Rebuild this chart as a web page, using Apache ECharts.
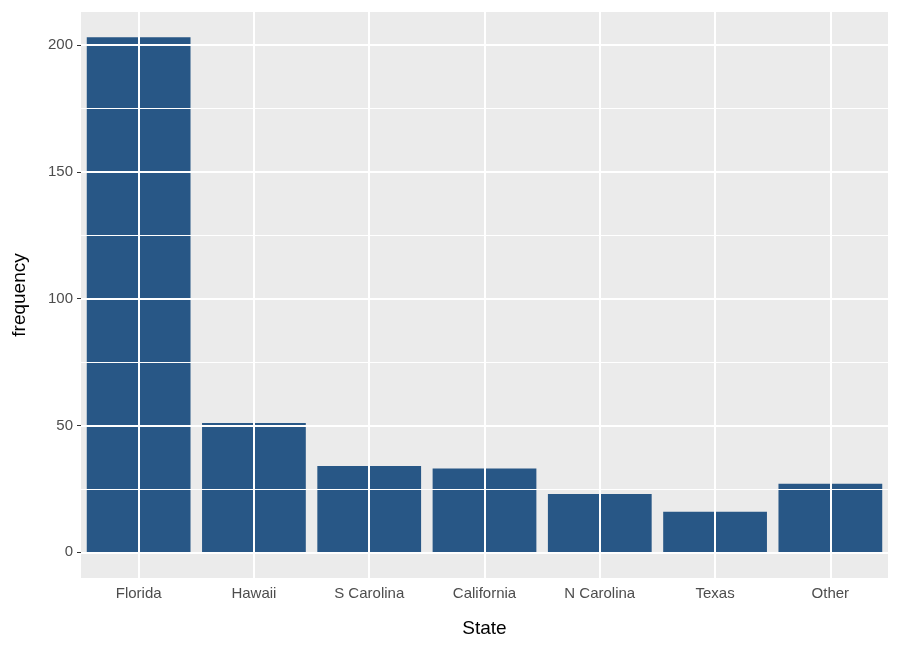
<!DOCTYPE html>
<html><head><meta charset="utf-8">
<script src="https://cdn.jsdelivr.net/npm/echarts@6/dist/echarts.min.js"></script>
<style>html,body{margin:0;padding:0;background:#fff}#c{width:900px;height:646px}</style>
</head><body><div id="c"></div>
<script>
const categories = ["Florida","Hawaii","S Carolina","California","N Carolina","Texas","Other"];
const frequency = [203, 51, 34, 33, 23, 16, 27];
const majorTicks = [0, 50, 100, 150, 200];
const minorTicks = [25, 75, 125, 175];

const chart = echarts.init(document.getElementById('c'));
const lbl = {color:'#4D4D4D', fontSize:15, fontFamily:'Liberation Sans, Arial, sans-serif'};
chart.setOption({
  animation:false,
  grid:{left:81,right:12,top:12,bottom:68,show:true,backgroundColor:'#EBEBEB',borderWidth:0},
  xAxis:{type:'category',data:categories,boundaryGap:true,
    name:'State',nameLocation:'middle',nameGap:41,
    nameTextStyle:{color:'#000',fontSize:19,fontFamily:'Liberation Sans, Arial, sans-serif'},
    axisLine:{show:false},
    axisTick:{show:true,alignWithLabel:true,length:4,lineStyle:{color:'#333'}},
    axisLabel:Object.assign({margin:8},lbl),
    splitLine:{show:false}},
  yAxis:{type:'value',min:-10.15,max:213,
    name:'frequency',nameLocation:'middle',nameGap:52,
    nameTextStyle:{color:'#000',fontSize:19,fontFamily:'Liberation Sans, Arial, sans-serif'},
    axisLine:{show:false},
    axisTick:{show:true,length:4,lineStyle:{color:'#333'},customValues:majorTicks},
    axisLabel:Object.assign({margin:8,customValues:majorTicks},lbl),
    splitLine:{show:false}},
  series:[
    {type:'line',data:[],z:1,silent:true,
     markLine:{silent:true,symbol:'none',label:{show:false},
       data:[].concat(
         minorTicks.map(v=>({yAxis:v,lineStyle:{color:'#fff',width:1,type:'solid'}})),
         majorTicks.map(v=>({yAxis:v,lineStyle:{color:'#fff',width:2,type:'solid'}})),
         categories.map(c=>({xAxis:c,lineStyle:{color:'#fff',width:2,type:'solid'}}))
       )}},
    {type:'bar',data:frequency,z:2,barCategoryGap:'10%',itemStyle:{color:'#285786'}}
  ]
});
</script></body></html>
